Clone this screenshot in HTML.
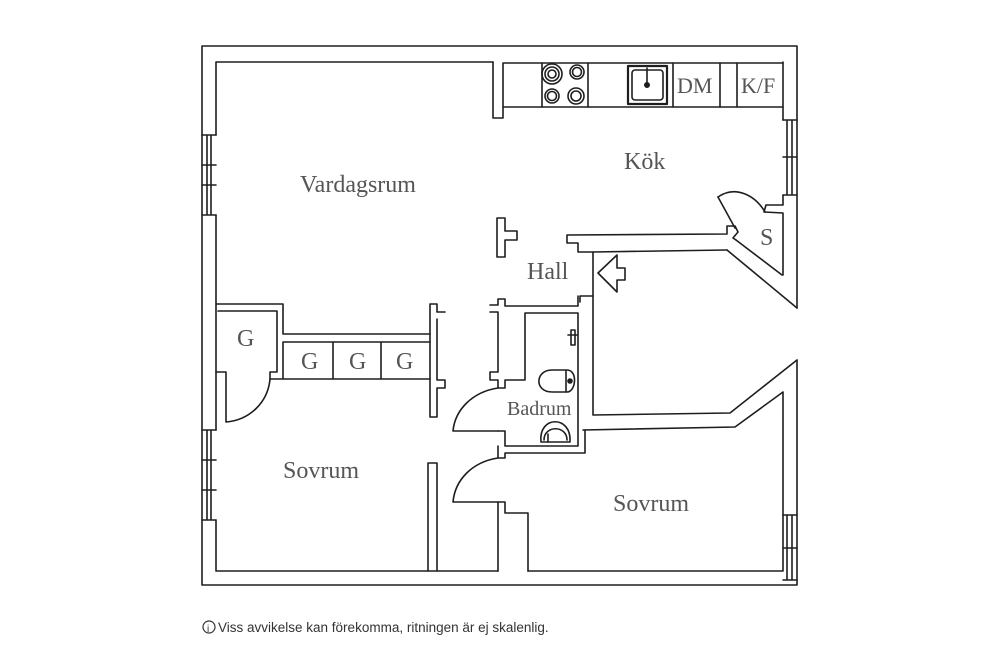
<!DOCTYPE html>
<html><head><meta charset="utf-8"><style>
html,body{margin:0;padding:0;background:#fff;width:1000px;height:667px;overflow:hidden}
svg{display:block}
.w{fill:none;stroke:#1e1e1e;stroke-width:1.6;stroke-linejoin:round;stroke-linecap:round}
.t{font-family:"Liberation Serif",serif;fill:#555;font-size:24px}
.f{font-family:"Liberation Sans",sans-serif;fill:#333;font-size:13.5px}
</style></head><body>
<svg width="1000" height="667" viewBox="0 0 1000 667" xmlns="http://www.w3.org/2000/svg">
<g class="w">
<path d="M797,308 L797,46 L202,46 L202,585 L797,585 L797,360"/>
<path d="M493,62 L216,62 L216,135 M216,215 L216,430 M216,520 L216,571 L498,571"/>
<path d="M528,571 L783,571 L783,515"/>
<path d="M202,135 L216,135 M202,215 L216,215 M207,135 L207,215 M211,135 L211,215 M202,165 L216,165 M202,185 L216,185"/>
<path d="M202,430 L216,430 M202,520 L216,520 M207,430 L207,520 M211,430 L211,520 M202,460 L216,460 M202,490 L216,490"/>
<path d="M783,120 L797,120 M783,195 L797,195 M787,120 L787,195 M792,120 L792,195 M783,157 L797,157"/>
<path d="M783,515 L797,515 M783,580 L797,580 M787,515 L787,580 M792,515 L792,580 M783,548 L797,548"/>
<path d="M493,62 L493,118 L503,118 L503,107 L783,107 M503,63 L783,63 M503,63 L503,107"/>
<path d="M783,62 L783,120"/>
<path d="M542,63 L542,107 M588,63 L588,107 M673,63 L673,107 M720,63 L720,107 M737,63 L737,107"/>
<rect x="628" y="66" width="39" height="38" stroke-width="2.2"/>
<rect x="632" y="70" width="31" height="30" rx="3"/>
<path d="M647,68 L647,84"/>
<circle cx="647" cy="85" r="2.2" fill="#1e1e1e"/>
<circle cx="552" cy="74" r="10"/><circle cx="552" cy="74" r="7"/><circle cx="552" cy="74" r="4"/>
<circle cx="577" cy="72" r="7"/><circle cx="577" cy="72" r="4.5"/>
<circle cx="552" cy="96" r="7"/><circle cx="552" cy="96" r="4.5"/>
<circle cx="576" cy="96" r="8"/><circle cx="576" cy="96" r="5"/>
<path d="M783,195 L783,205 L766,205 L764,212 L783,213 L783,275"/>
<path d="M718,197 C735,185 755,195 765,212"/>
<path d="M718,197 L735,228"/>
<path d="M727,250 L797,308"/>
<path d="M736,240 L782,275"/>
<path d="M497,218 L505,218 L505,231 L517,231 L517,240 L505,240 L505,257 L497,257 Z"/>
<path d="M567,235 L727,234 L727,226 L735,226 L738,232 L733,238 L736,240 M567,235 L567,243 L578,243 L578,252 L593,252 L727,250"/>
<path d="M593,252 L593,415 L730,413 L797,360"/>
<path d="M580,296 L593,296 M580,296 L580,302"/>
<path d="M598,273 L617,255 L617,268 L625,268 L625,280 L617,280 L617,292 Z"/>
<path d="M583,430 L735,427 L783,392 L783,515"/>
<path d="M216,304 L283,304 L283,334 L430,334 M218,311 L277,311 L277,372 L270,372 L270,379 L430,379 M283,342 L430,342 M283,342 L283,379 M333,342 L333,379 M381,342 L381,379"/>
<path d="M216,372 L226,372 L226,422 M226,422 C250,420 268,402 270,379"/>
<path d="M430,304 L437,304 L437,312 L445,312 M430,304 L430,417 L437,417 L437,388 L445,388 L445,380 L437,380 L437,319"/>
<path d="M428,463 L437,463 L437,571 M428,463 L428,571"/>
<path d="M490,305 L498,305 L498,299 L505,299 L505,306 L578,306 L578,296 M490,312 L498,312 L498,372 L490,372 L490,380 L498,380 L498,388 L505,388 L505,380 L525,380 L525,313 L578,313 L578,446 L505,446 L505,431 L498,431"/>
<path d="M498,388 C472,392 455,410 453,431 L498,431"/>
<path d="M498,446 L498,458 M505,453 L585,453 L585,430 M498,458 C472,462 455,480 453,502 L498,502 L498,571 M498,458 L505,458 L505,453"/>
<path d="M498,502 L505,502 L505,513 L528,513 L528,571"/>
<path d="M567,370 L552,370 C535,370 534,392 552,392 L567,392 C576,392 578,370 567,370 Z"/>
<path d="M566,371 L566,392"/>
<circle cx="570" cy="381" r="2" fill="#1e1e1e"/>
<path d="M571,330 L575,330 L575,345 L571,345 Z M568,335 L577,335"/>
<path d="M541,442 C538,415 572,415 570,442 Z M544,440 C544,425 567,425 567,440"/>
<path d="M548,442 L548,434"/>
</g>
<text class="t" x="300" y="192">Vardagsrum</text>
<text class="t" x="624" y="169">Kök</text>
<text class="t" x="527" y="279">Hall</text>
<text class="t" x="677" y="93" style="font-size:22px">DM</text>
<text class="t" x="741" y="93" style="font-size:22px">K/F</text>
<text class="t" x="760" y="245">S</text>
<text class="t" x="237" y="346">G</text>
<text class="t" x="301" y="369">G</text>
<text class="t" x="349" y="369">G</text>
<text class="t" x="396" y="369">G</text>
<text class="t" x="507" y="415" style="font-size:20px">Badrum</text>
<text class="t" x="283" y="478">Sovrum</text>
<text class="t" x="613" y="511">Sovrum</text>
<circle cx="209" cy="627" r="6" fill="none" stroke="#333" stroke-width="1.2"/>
<text class="f" x="207" y="632" style="font-size:10px">i</text>
<text class="f" x="218" y="632">Viss avvikelse kan förekomma, ritningen är ej skalenlig.</text>
</svg>
</body></html>
